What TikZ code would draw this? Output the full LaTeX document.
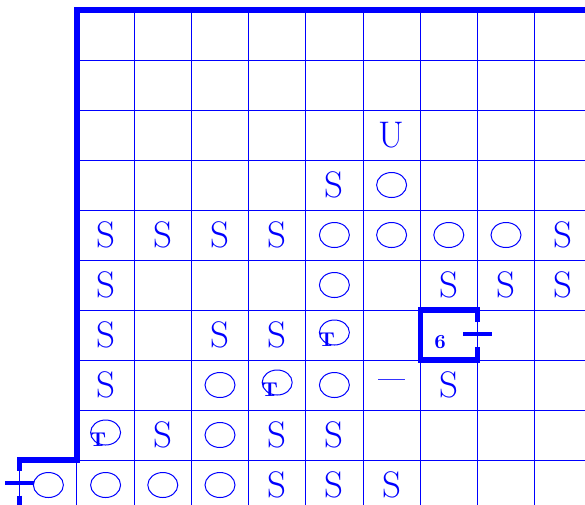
\documentclass[tikz,border=0pt]{standalone}
\usetikzlibrary{shapes.geometric}
\definecolor{c1}{HTML}{0000FF}

\begin{document}
\begin{tikzpicture}[
    x=28.6pt, y=-25pt,
    grid/.style={c1, line width=0.5pt},
    wall/.style={c1, line width=2.6pt},
    bar/.style={c1, line width=2pt},
    let/.style={text=c1, font=\fontsize{18.5}{18.5}\selectfont, inner sep=0pt},
    ring/.style={ellipse, draw=c1, line width=0.5pt, minimum width=15pt,
                 minimum height=12.5pt, inner sep=0pt},
    tag/.style={text=c1, font=\fontsize{10}{10}\selectfont\bfseries, inner sep=0pt},
]
\useasboundingbox (-1.346,-0.2) rectangle (8.881,9.88);

% ---------------- grid
\foreach \j in {1,...,9}
    \draw[grid] (0,\j) -- (8.9,\j);
\foreach \i in {1,...,8}
    \draw[grid] (\i,0) -- (\i,10);
\draw[grid] (0,9) -- (0,10);
\draw[grid] (-1,9) -- (-1,10);

% ---------------- walls and doors
\draw[wall] (8.9,0) -- (0,0) -- (0,9) -- (-1,9) -- (-1,9.21);
\draw[wall] (-1,9.71) -- (-1,10);
\draw[bar] (-1.25,9.46) -- (-0.75,9.46);
\draw[wall] (7,6.24) -- (7,6) -- (6,6) -- (6,7) -- (7,7) -- (7,6.74);
\draw[bar] (6.75,6.48) -- (7.25,6.48);

% ---------------- cell contents
\foreach \i/\j in {4/3, 0/4,1/4,2/4,3/4,8/4, 0/5,6/5,7/5,8/5,
                   0/6,2/6,3/6, 0/7,6/7, 1/8,3/8,4/8, 3/9,4/9,5/9}
    \node[let] (s-\i-\j) at ({\i+0.5},{\j+0.5}) {S};
\node[let] (u-5-2) at (5.5,2.5) {U};
\foreach \i/\j in {5/3, 4/4,5/4,6/4,7/4, 4/5, 2/7,4/7, 2/8,
                   -1/9,0/9,1/9,2/9}
    \node[ring] (o-\i-\j) at ({\i+0.5},{\j+0.5}) {};
\foreach \i/\j in {4/6, 3/7, 0/8}{
    \node[ring] (o-\i-\j) at ({\i+0.5},{\j+0.45}) {};
    \node[tag] (t-\i-\j) at ({\i+0.37},{\j+0.6}) {T};
}
\node[text=c1, font=\fontsize{12}{12}\selectfont\bfseries, inner sep=0pt]
    (d-5-7) at (5.5,7.46) {---};
\node[tag] (n-6-6) at (6.35,6.64) {6};
\end{tikzpicture}
\end{document}
